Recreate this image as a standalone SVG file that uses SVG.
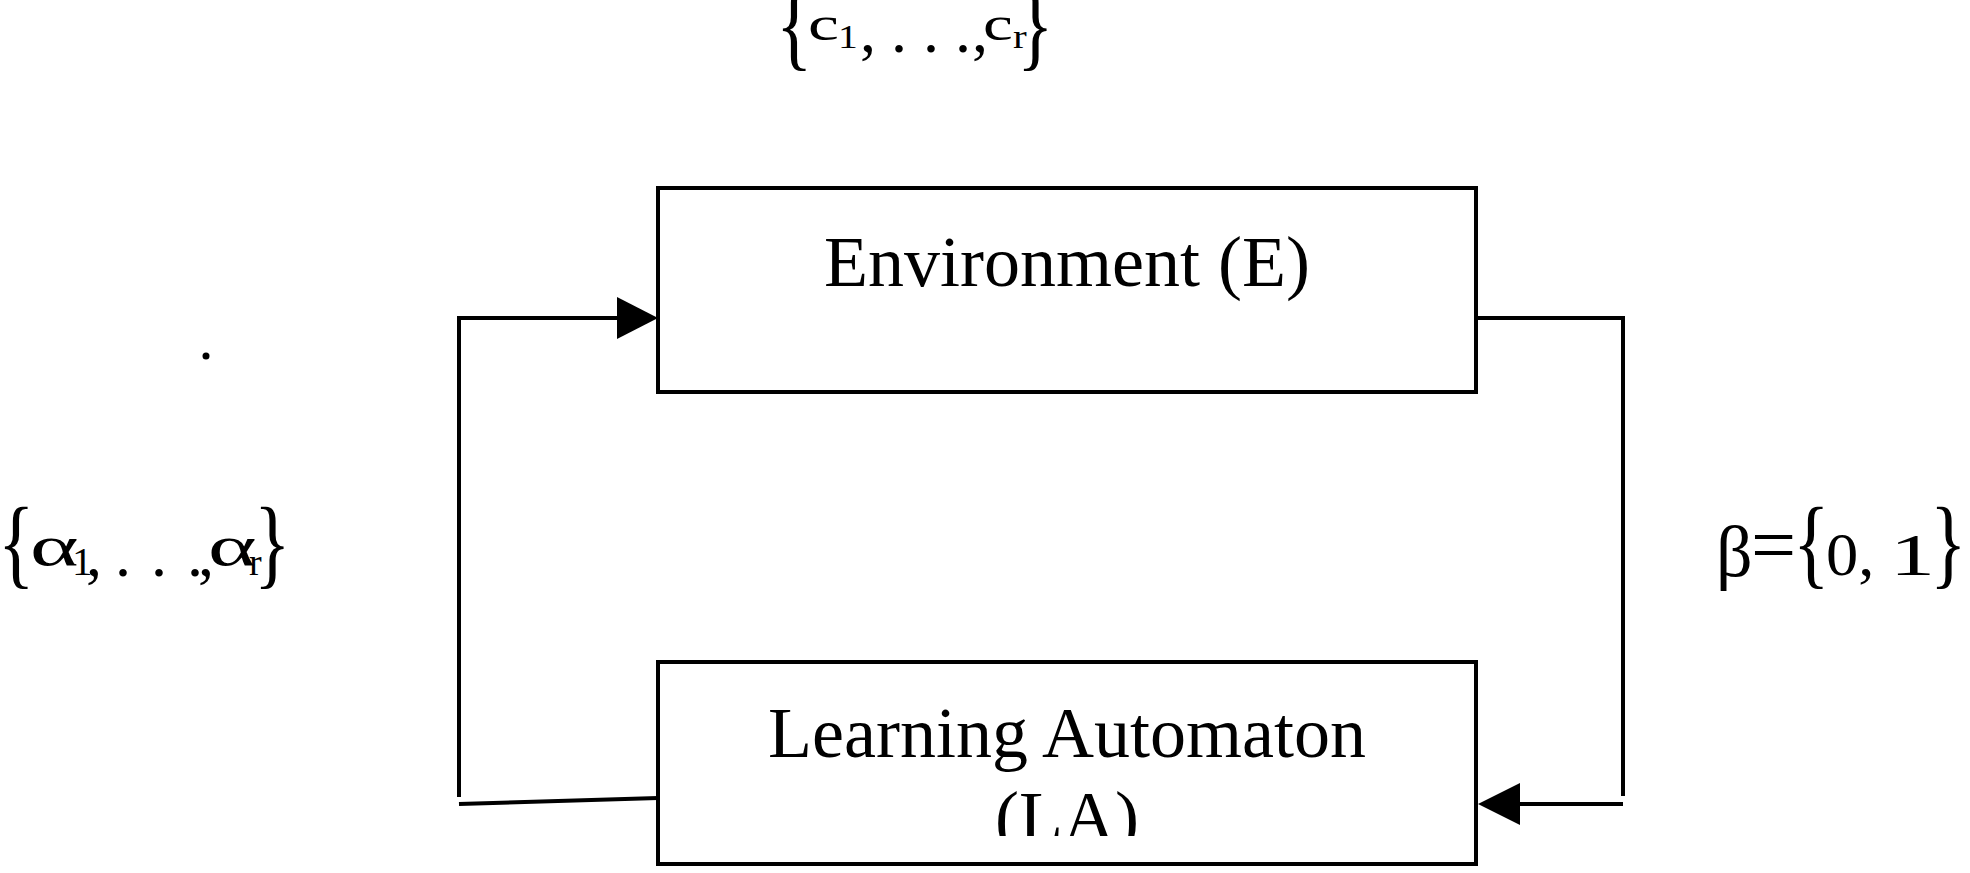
<svg xmlns="http://www.w3.org/2000/svg" width="1970" height="873" viewBox="0 0 1970 873">
<style>
.box{fill:#fff;stroke:#000;stroke-width:4}
.ln{fill:none;stroke:#000;stroke-width:4}
.t{font-family:"Liberation Serif","Times New Roman",serif;fill:#000}
.br{font-family:"Liberation Serif","Times New Roman",serif;fill:#000;font-size:76px}
</style>
<defs>
<clipPath id="laclip"><rect x="658" y="662" width="818" height="174"/></clipPath>
</defs>
<rect width="1970" height="873" fill="#fff"/>
<g id="connectors">
<polyline class="ln" points="459,797 459,318 620,318"/>
<polygon points="658,318 617,297 617,339" fill="#000"/>
<line class="ln" x1="459" y1="804" x2="658" y2="798"/>
<polyline class="ln" points="1476,318 1623,318 1623,796"/>
<line class="ln" x1="1623" y1="804" x2="1515" y2="804"/>
<polygon points="1478,804 1520,783 1520,825" fill="#000"/>
</g>
<g id="env">
<rect class="box" x="658" y="188" width="818" height="204"/>
<text class="t" x="1067" y="286" font-size="72" text-anchor="middle">Environment (E)</text>
</g>
<g id="la">
<rect class="box" x="658" y="662" width="818" height="202"/>
<g clip-path="url(#laclip)">
<text class="t" x="1067" y="757" font-size="72" text-anchor="middle">Learning Automaton</text>
<text class="t" x="1067" y="841" font-size="72" text-anchor="middle">(LA)</text>
</g>
</g>
<g id="label-c">
<text class="br" transform="translate(776,58) scale(1,1.3)">{</text>
<text class="t" font-size="48" transform="translate(808,40) scale(1.45,1)">c</text>
<text class="t" font-size="33" transform="translate(838,48) scale(1.2,1)">1</text>
<text class="t" font-size="64" x="860 891 923 955 972" y="52">,...,</text>
<text class="t" font-size="48" transform="translate(983,40) scale(1.4,1)">c</text>
<text class="t" font-size="33" transform="translate(1013,48) scale(1.25,1)">r</text>
<text class="br" transform="translate(1017,58) scale(1,1.3)">}</text>
</g>
<g id="label-alpha">
<text class="br" transform="translate(-2,576) scale(1,1.3)">{</text>
<text class="t" font-size="58" transform="translate(30,565) scale(1.6,1)">α</text>
<text class="t" font-size="41" x="72" y="575">1</text>
<text class="t" font-size="64" x="86 115 151 187 198" y="576">,...,</text>
<text class="t" font-size="58" transform="translate(208,565) scale(1.6,1)">α</text>
<text class="t" font-size="38" x="249" y="575">r</text>
<text class="br" transform="translate(254,576) scale(1,1.3)">}</text>
</g>
<g id="label-beta">
<text class="t" font-size="72" x="1716" y="576">β</text>
<text class="t" font-size="80" x="1751" y="572">=</text>
<text class="br" transform="translate(1793,576) scale(1,1.3)">{</text>
<text class="t" font-size="62" transform="translate(1826,575) scale(1.04,1)">0,</text>
<text class="t" font-size="60" transform="translate(1890,575) scale(1.5,1)">1</text>
<text class="br" transform="translate(1930,576) scale(1,1.3)">}</text>
</g>
<circle id="dot" cx="206" cy="356" r="3.5" fill="#000"/>
</svg>
